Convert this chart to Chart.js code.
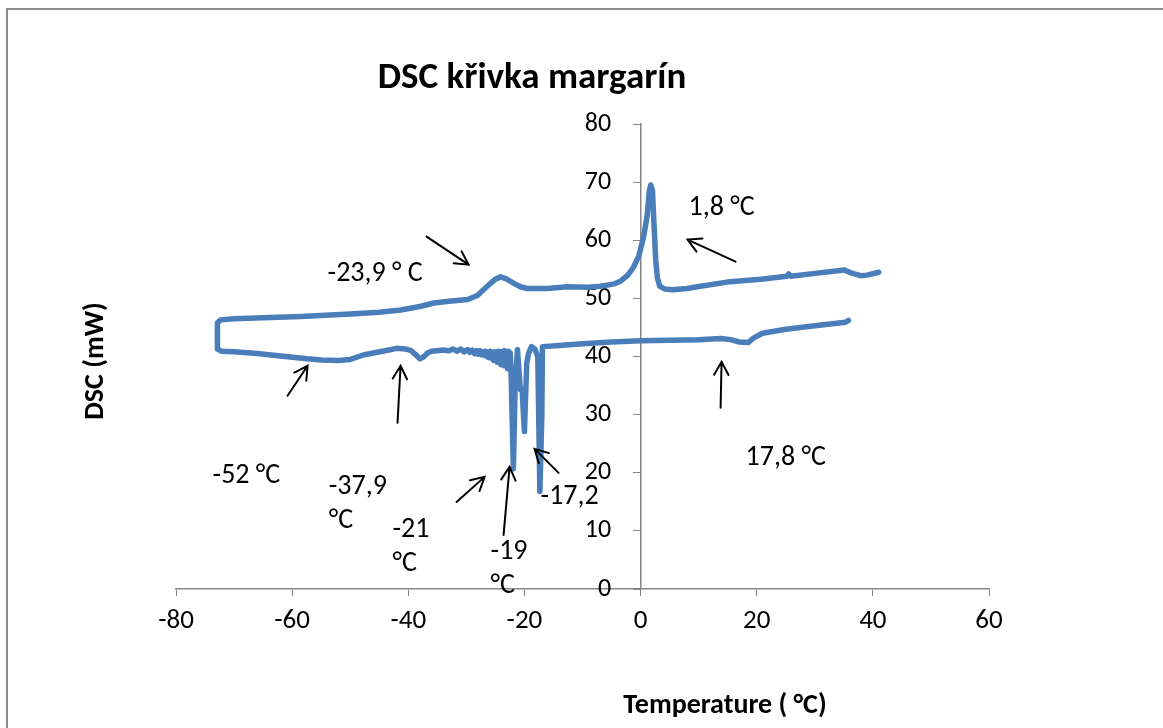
<!DOCTYPE html>
<html>
<head>
<meta charset="utf-8">
<title>DSC křivka margarín</title>
<script src="https://cdn.jsdelivr.net/npm/chart.js@4.4.1/dist/chart.umd.min.js"></script>
<style>
  html, body { margin: 0; padding: 0; background: #fff; }
  #wrap { width: 1163px; height: 728px; }
</style>
</head>
<body>
<div id="wrap"><canvas id="dsc" width="1163" height="728"></canvas></div>
<script>
// measured curve: one loop, lower branch right -> left, then upper branch left -> right
const tempC = [
  35.8, 35.3, 30, 25, 21, 19.5, 18.5, 17, 15.5, 13.8, 10, 5, 0, -5, -10, -14, -16.9,
  -17.0, -17.34, -17.7, -18.2, -18.8, -19.3, -19.6, -20.0, -20.4, -20.7, -21.2, -21.6, -21.9, -22.3,
  -22.45, -22.6, -22.75, -22.9, -23.05, -23.2, -23.35, -23.5, -23.65, -23.8, -23.95, -24.1, -24.25,
  -24.4, -24.55, -24.7, -24.85, -25.0, -25.15, -25.3, -25.5, -25.7, -25.9, -26.1, -26.3, -26.5,
  -26.7, -26.9, -27.1, -27.4, -27.7, -28.0, -28.3, -28.6, -29.0, -29.4, -29.8,
  -30.4, -31.0, -31.6, -32.3, -33.0, -34.0, -35.0, -36.0, -36.7, -37.4,
  -38.0, -38.6, -39.5, -40.5, -42, -44, -47.6, -50, -52, -55, -57.4, -62, -66, -70, -72.2,
  -72.8, -72.9, -72.9, -72.8, -72.3,
  -70, -65, -58.5, -50, -45, -41.3, -38, -35.6, -33, -29.8, -28.1, -26.5, -25, -24.1, -23.2,
  -21.8, -20.7, -19.5, -16, -12.6, -9, -6.9, -4.5, -3.4, -2.2, -1.2, -0.3, 0.5, 1.15, 1.5, 1.75,
  2.05, 2.3, 2.6, 2.9, 3.3, 4.2, 5.5, 8, 10.3, 14.9, 20.7, 25.2, 25.5, 25.9, 30, 34.4, 35.0,
  36.2, 37.9, 39.0, 41.0
];
const dscMW = [
  46.2, 45.9, 45.3, 44.7, 44.0, 43.2, 42.4, 42.5, 42.9, 43.1, 42.9, 42.8, 42.7, 42.5, 42.2, 41.9, 41.7,
  30, 16.8, 40.0, 41.3, 41.7, 40.5, 38.9, 27.1, 34.3, 34.3, 41.2, 35, 20.7, 37.2,
  40.6, 38.2, 40.9, 37.9, 40.3, 38.6, 41.0, 38.4, 40.2, 38.9, 40.8, 38.6, 40.5,
  39.2, 40.9, 39.0, 40.4, 39.5, 40.8, 39.3, 40.6, 39.7, 40.9, 39.8, 40.7, 40.0,
  40.9, 40.2, 40.8, 40.3, 41.0, 40.4, 41.0, 40.5, 41.1, 40.7, 41.2,
  40.8, 41.3, 40.9, 41.3, 41.0, 41.1, 41.0, 40.9, 40.6, 39.9,
  39.6, 40.2, 41.0, 41.3, 41.4, 41.0, 40.3, 39.5, 39.3, 39.4, 39.6, 40.1, 40.5, 40.8, 40.9,
  41.3, 42.5, 44.5, 45.8, 46.3,
  46.5, 46.65, 46.9, 47.3, 47.6, 48.0, 48.6, 49.2, 49.5, 49.8, 50.5, 52.0, 53.3, 53.7, 53.4,
  52.6, 52.0, 51.7, 51.7, 52.0, 51.9, 52.1, 52.5, 53.0, 54.0, 55.4, 57.3, 60.5, 64.3, 68.5, 69.5,
  68.5, 63, 56.7, 53.5, 52.1, 51.6, 51.5, 51.7, 52.1, 52.8, 53.3, 53.8, 54.2, 53.8, 54.3, 54.8, 54.9,
  54.4, 53.9, 54.0, 54.5
];

const xTicks = [-80, -60, -40, -20, 0, 20, 40, 60];
const yTicks = [0, 10, 20, 30, 40, 50, 60, 70, 80];

// annotations (data units): text anchored at its left edge, first line middle
const noteText = ['-23,9 ° C', '1,8 °C', '-52 °C', '-37,9\n°C', '-21\n°C', '-19\n°C', '-17,2', '17,8 °C'];
const noteX = [-53.9, 8.27, -73.7, -53.7, -42.71, -25.83, -17.22, 18.08];
const noteY = [54.25, 65.62, 19.46, 17.57, 10.16, 6.37, 15.85, 22.56];
// arrows: tail -> tip
const arrowFromX = [-36.85, 16.36, -60.79, -41.85, -31.69, -23.59, -14.12, 13.78];
const arrowFromY = [60.63, 56.32, 33.24, 28.59, 14.98, 9.30, 19.98, 31.17];
const arrowToX = [-29.62, 8.09, -57.34, -41.33, -26.86, -22.56, -18.25, 13.95];
const arrowToY = [55.80, 60.11, 38.41, 38.41, 19.29, 21.01, 24.11, 39.10];

const FONT = 'Carlito, Calibri, "Liberation Sans Narrow", "Liberation Sans", sans-serif';
const AXIS = '#868686';

const points = tempC.map((t, i) => ({ x: t, y: dscMW[i] }));

const decor = {
  id: 'decor',
  beforeDraw(chart) {
    const c = chart.ctx;
    c.save();
    c.fillStyle = '#fff';
    c.fillRect(0, 0, chart.width, chart.height);
    c.strokeStyle = '#8c8c8c';
    c.lineWidth = 2;
    c.beginPath();
    c.moveTo(7, chart.height);
    c.lineTo(7, 9);
    c.lineTo(chart.width, 9);
    c.stroke();
    c.restore();
  },
  afterDraw(chart) {
    const c = chart.ctx;
    const xs = chart.scales.x, ys = chart.scales.y;
    c.save();
    c.fillStyle = '#000';
    c.textBaseline = 'middle';

    // titles
    c.textAlign = 'center';
    c.font = 'bold 37px ' + FONT;
    c.fillText('DSC křivka margarín', 532, 79);
    c.font = 'bold 28px ' + FONT;
    c.fillText('Temperature ( °C)', 725, 706);
    c.save();
    c.translate(96, 361);
    c.rotate(-Math.PI / 2);
    c.fillText('DSC (mW)', 0, 0);
    c.restore();

    // notes
    c.textAlign = 'left';
    c.font = '28px ' + FONT;
    noteText.forEach((t, i) => {
      const px = xs.getPixelForValue(noteX[i]);
      const py = ys.getPixelForValue(noteY[i]);
      t.split('\n').forEach((line, k) => c.fillText(line, px, py + k * 34));
    });

    // arrows
    c.strokeStyle = '#000';
    c.lineWidth = 2;
    c.lineCap = 'round';
    arrowFromX.forEach((_, i) => {
      const x1 = xs.getPixelForValue(arrowFromX[i]), y1 = ys.getPixelForValue(arrowFromY[i]);
      const x2 = xs.getPixelForValue(arrowToX[i]), y2 = ys.getPixelForValue(arrowToY[i]);
      const a = Math.atan2(y2 - y1, x2 - x1);
      const h = 15, w = 0.5;
      c.beginPath();
      c.moveTo(x1, y1);
      c.lineTo(x2, y2);
      c.moveTo(x2 - h * Math.cos(a - w), y2 - h * Math.sin(a - w));
      c.lineTo(x2, y2);
      c.lineTo(x2 - h * Math.cos(a + w), y2 - h * Math.sin(a + w));
      c.stroke();
    });
    c.restore();
  }
};

new Chart(document.getElementById('dsc'), {
  type: 'scatter',
  data: {
    datasets: [{
      label: 'DSC',
      data: points,
      showLine: true,
      borderColor: '#4a7ebb',
      borderWidth: 5.5,
      borderJoinStyle: 'round',
      borderCapStyle: 'round',
      pointRadius: 0,
      tension: 0
    }]
  },
  options: {
    responsive: false,
    animation: false,
    layout: { padding: { left: 176, right: 174, top: 124, bottom: 0 } },
    plugins: { legend: { display: false }, tooltip: { enabled: false } },
    scales: {
      x: {
        type: 'linear',
        position: 'bottom',
        min: -80, max: 60,
        afterBuildTicks: s => { s.ticks = xTicks.map(v => ({ value: v })); },
        afterFit: s => { s.height = 139; },
        grid: { drawOnChartArea: false, drawTicks: true, tickLength: 7, color: AXIS },
        border: { color: AXIS, width: 1.5 },
        ticks: { color: '#000', padding: 9, font: { family: FONT, size: 27 } }
      },
      y: {
        type: 'linear',
        position: { x: 0 },
        min: 0, max: 80,
        afterBuildTicks: s => { s.ticks = yTicks.map(v => ({ value: v })); },
        grid: { drawOnChartArea: false, drawTicks: true, tickLength: 7, color: AXIS },
        border: { color: AXIS, width: 1.5 },
        ticks: {
          color: '#000',
          font: { family: FONT, size: 26 },
          // label sits on the axis line when the axis is placed at x = 0; pad it with spaces
          callback: v => v + '     '
        }
      }
    }
  },
  plugins: [decor]
});
</script>
</body>
</html>
